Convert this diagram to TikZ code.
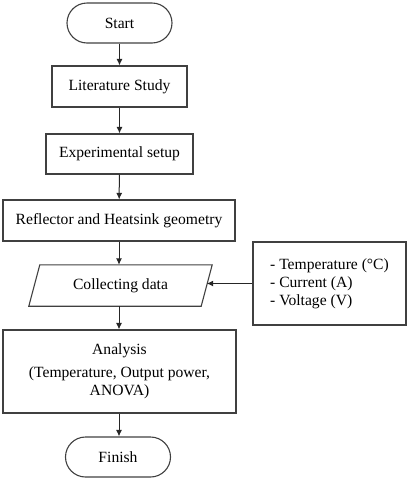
\documentclass[tikz,border=0pt]{standalone}
\usepackage{fontspec}
\setmainfont{Liberation Serif}
\usetikzlibrary{arrows.meta,calc}
\begin{document}
\begin{tikzpicture}[x=1pt,y=-1pt,
  every node/.style={font=\fontsize{15.6}{18}\selectfont, text=black},
  box/.style={draw=black!75, line width=1.1pt, rectangle, inner sep=0pt, align=center},
  term/.style={box, rounded corners=20pt},
  arr/.style={draw=black!85, line width=1pt, -{Latex[length=6.5pt,width=6pt]}}]
\useasboundingbox (0,0) rectangle (408,480);
\node[term, minimum width=105pt, minimum height=40pt] (start) at (119.5,23) {Start};
\node[box, minimum width=135pt, minimum height=41pt] (lit) at (119.5,86.5) {Literature Study};
\node[box, minimum width=147pt, minimum height=40pt] (exp) at (119.5,154) {Experimental setup};
\node[box, minimum width=232pt, minimum height=41pt] (refl) at (119,220.5) {Reflector and Heatsink geometry};
\node[inner sep=0pt, minimum width=172pt, minimum height=41pt] (coll) at (120.5,285.5) {Collecting data};
\draw[draw=black!75, line width=1.1pt]
  ($(coll.north west)+(5.5,0)$) -- ($(coll.north east)+(5.5,0)$) --
  ($(coll.south east)+(-5.5,0)$) -- ($(coll.south west)+(-5.5,0)$) -- cycle;
\node[box, minimum width=153pt, minimum height=83pt, align=left] (param) at (329.5,283.5)
  {- Temperature (°C)\\- Current (A)\\- Voltage (V)};
\node[box, minimum width=233pt, minimum height=83pt] (ana) at (119.5,371.5)
  {Analysis\\[5pt](Temperature, Output power,\\ANOVA)};
\node[term, minimum width=105pt, minimum height=40pt] (fin) at (118,457) {Finish};
\draw[arr] (start) -- (lit);
\draw[arr] (lit) -- (exp);
\draw[arr] (exp) -- (refl);
\draw[arr] (refl.south) -- (refl.south |- coll.north);
\draw[arr] (coll.south -| refl.south) -- (ana.north -| refl.south);
\draw[arr] (ana.south -| refl.south) -- (fin.north -| refl.south);
\draw[arr] (param.west) -- (param.west -| coll.east);
\end{tikzpicture}
\end{document}
